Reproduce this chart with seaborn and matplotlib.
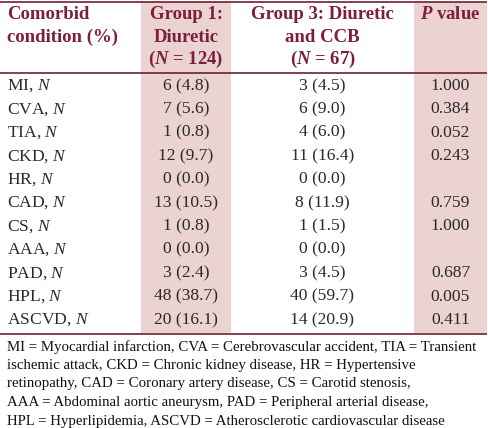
import matplotlib
matplotlib.use("Agg")
import matplotlib.pyplot as plt
import seaborn as sns

# ---- data ----
conditions = ["MI", "CVA", "TIA", "CKD", "HR", "CAD", "CS", "AAA", "PAD", "HPL", "ASCVD"]
g1_n = [6, 7, 1, 12, 0, 13, 1, 0, 3, 48, 20]
g1_pct = [4.8, 5.6, 0.8, 9.7, 0.0, 10.5, 0.8, 0.0, 2.4, 38.7, 16.1]
g3_n = [3, 6, 4, 11, 0, 8, 1, 0, 3, 40, 14]
g3_pct = [4.5, 9.0, 6.0, 16.4, 0.0, 11.9, 1.5, 0.0, 4.5, 59.7, 20.9]
p_values = ["1.000", "0.384", "0.052", "0.243", "", "0.759", "1.000", "", "0.687", "0.005", "0.411"]
header_col0 = ["Comorbid", "condition (%)"]
header_col1 = ["Group 1:", "Diuretic", r"($\mathbfit{N}$ = 124)"]
header_col2 = ["Group 3: Diuretic", "and CCB", r"($\mathbfit{N}$ = 67)"]
header_col3 = [r"$\mathbfit{P}$ value"]
footnote = [
    "MI = Myocardial infarction, CVA = Cerebrovascular accident, TIA = Transient",
    "ischemic attack, CKD = Chronic kidney disease, HR = Hypertensive",
    "retinopathy, CAD = Coronary artery disease, CS = Carotid stenosis,",
    "AAA = Abdominal aortic aneurysm, PAD = Peripheral arterial disease,",
    "HPL = Hyperlipidemia, ASCVD = Atherosclerotic cardiovascular disease",
]

sns.set_theme(style="white")
FONT = "Liberation Serif"
plt.rcParams["font.family"] = [FONT, "DejaVu Serif"]
plt.rcParams["mathtext.fontset"] = "custom"
plt.rcParams["mathtext.rm"] = FONT
plt.rcParams["mathtext.it"] = FONT + ":italic"
plt.rcParams["mathtext.bf"] = FONT + ":bold"
plt.rcParams["mathtext.bfit"] = FONT + ":italic:bold"

MAROON = "#7c1f3c"
LINE = "#6e1f36"
SHADE = "#ebd3d1"
TEXT = "#2a2a2a"

fig = plt.figure(figsize=(4.88, 4.28), dpi=100)
ax = fig.add_axes([0, 0, 1, 1])
ax.set_xlim(0, 488)
ax.set_ylim(428, 0)
ax.axis("off")

# shaded columns
ax.axvspan(141, 231, ymin=1 - 333 / 428, ymax=1 - 2 / 428, color=SHADE, lw=0)
ax.axvspan(414, 487, ymin=1 - 333 / 428, ymax=1 - 2 / 428, color=SHADE, lw=0)

# rules
for y in (1.5, 73, 333.5):
    ax.plot([0, 487], [y, y], color=LINE, lw=1.2, solid_capstyle="butt")

col_x = [7, 186, 322.5, 450.5]
hsize = 13.5
bsize = 12.6
fsize = 10.7

# headers
hy = [14, 37, 59.5]
for i, t in enumerate(header_col0):
    ax.text(col_x[0], hy[i], t, ha="left", va="center", fontsize=hsize,
            fontweight="bold", color=MAROON)
for i, t in enumerate(header_col1):
    ax.text(col_x[1], hy[i], t, ha="center", va="center", fontsize=hsize,
            fontweight="bold", color=MAROON)
for i, t in enumerate(header_col2):
    ax.text(col_x[2], hy[i], t, ha="center", va="center", fontsize=hsize,
            fontweight="bold", color=MAROON)
for i, t in enumerate(header_col3):
    ax.text(col_x[3], hy[i], t, ha="center", va="center", fontsize=hsize,
            fontweight="bold", color=MAROON)

# body
y0, dy = 86, 23.4
for i, c in enumerate(conditions):
    y = y0 + i * dy
    ax.text(col_x[0], y, c + r", $N$", ha="left", va="center", fontsize=bsize, color=TEXT)
    ax.text(col_x[1], y, f"{g1_n[i]} ({g1_pct[i]:.1f})", ha="center", va="center",
            fontsize=bsize, color=TEXT)
    ax.text(col_x[2], y, f"{g3_n[i]} ({g3_pct[i]:.1f})", ha="center", va="center",
            fontsize=bsize, color=TEXT)
    if p_values[i]:
        ax.text(col_x[3], y, p_values[i], ha="center", va="center", fontsize=bsize, color=TEXT)

# footnote
for i, line in enumerate(footnote):
    ax.text(7, 347 + i * 18.5, line, ha="left", va="center", fontsize=fsize, color="#111111")

fig.savefig("out.png", dpi=100)
